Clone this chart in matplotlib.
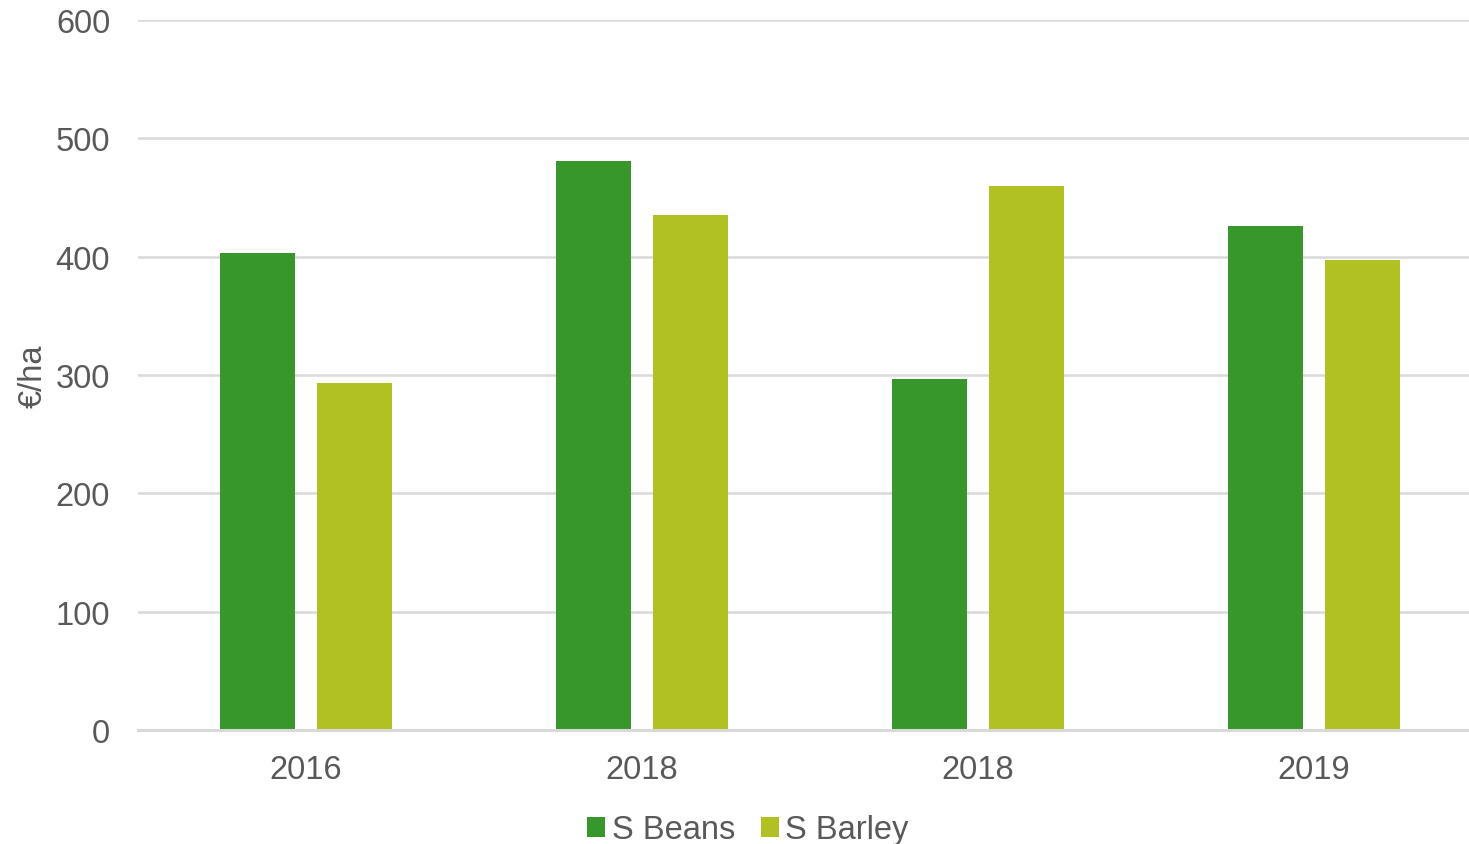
import matplotlib
matplotlib.use("Agg")
import matplotlib.pyplot as plt
import numpy as np

categories = ["2016", "2018", "2018", "2019"]
beans = [403, 481, 297, 426]
barley = [293, 435, 460, 397]
series_names = ["S Beans", "S Barley"]
colors = ["#38972A", "#B1C124"]
yticks = [0, 100, 200, 300, 400, 500, 600]

plt.rcParams['font.family'] = ['Liberation Sans', 'DejaVu Sans']
text_color = "#595959"
fs = 23.5

fig = plt.figure(figsize=(14.69, 8.45), dpi=100)
ax = fig.add_axes([138/1469, 114/845, (1469-138)/1469, 710/845])

x = np.arange(len(categories))
w = 0.223
off = 0.143
ax.bar(x - off, beans, width=w, color=colors[0], label=series_names[0], zorder=3)
ax.bar(x + off, barley, width=w, color=colors[1], label=series_names[1], zorder=3)

ax.set_xlim(-0.5, -0.5 + (1469-138)/336)
ax.set_ylim(0, 600)
ax.set_yticks(yticks)
ax.set_xticks(x)
ax.set_xticklabels(categories)
ax.yaxis.grid(True, color="#D9D9D9", linewidth=1.8, zorder=0)
ax.set_axisbelow(True)
for s in ["top", "right", "left"]:
    ax.spines[s].set_visible(False)
ax.spines["bottom"].set_color("#D9D9D9")
ax.spines["bottom"].set_linewidth(2.2)
ax.spines["bottom"].set_zorder(4)
ax.tick_params(axis="both", length=0, labelsize=fs, colors=text_color)
ax.tick_params(axis="y", pad=20)
ax.tick_params(axis="x", pad=17)
ax.set_ylabel("€/ha", fontsize=fs, color=text_color, labelpad=5)

handles, labels = ax.get_legend_handles_labels()
leg = fig.legend(handles, labels, loc="center", bbox_to_anchor=(748/1469, 1-831/845),
                 ncol=2, frameon=False, fontsize=fs, handlelength=0.55, handleheight=0.55,
                 handletextpad=0.2, columnspacing=0.8)
for t in leg.get_texts():
    t.set_color(text_color)

fig.savefig("out.png", dpi=100)
